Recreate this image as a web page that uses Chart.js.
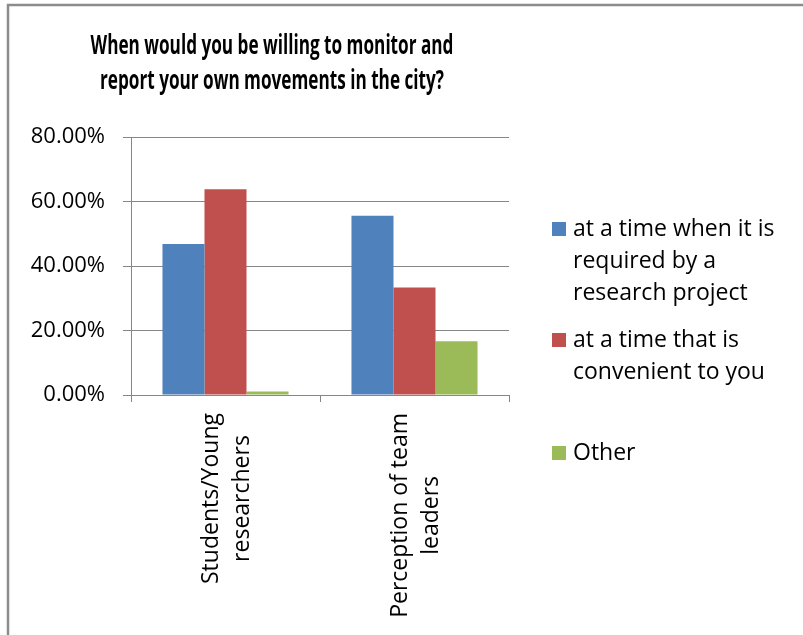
<!DOCTYPE html>
<html>
<head>
<meta charset="utf-8">
<script src="https://cdn.jsdelivr.net/npm/chart.js@4/dist/chart.umd.min.js"></script>
<style>
  html, body { margin: 0; padding: 0; background: #fff; }
  canvas { display: block; }
</style>
</head>
<body>
<canvas id="chart" width="803" height="635"></canvas>
<script>
// Data
const groups = [["Students/Young", "researchers"], ["Perception of team", "leaders"]];
const seriesNames = [
  ["at a time when it is", "required by a", "research project"],
  ["at a time that is", "convenient to you"],
  ["Other"]
];
const requiredByProject = [0.4681, 0.5556];
const convenientToYou = [0.6383, 0.3333];
const otherAnswer = [0.0106, 0.1667];
const titleLines = ["When would you be willing to monitor and", "report your own movements in the city?"];

const colors = ["#4F81BD", "#C0504D", "#9BBB59"];
const gray = "#868686";
const FONT = "'Open Sans', sans-serif";

// title, frame, category labels and legend are drawn by hand to sit like the original
const decor = {
  id: "decor",
  afterDraw(chart) {
    const ctx = chart.ctx;
    ctx.save();
    // frame (only top and left edges are visible)
    ctx.strokeStyle = "#8c8c8c";
    ctx.lineWidth = 2.5;
    ctx.beginPath();
    ctx.moveTo(803, 5);
    ctx.lineTo(8, 5);
    ctx.lineTo(8, 635);
    ctx.stroke();

    // title (squeezed, the original font is narrow)
    ctx.fillStyle = "#000";
    ctx.font = "bold 26px " + FONT;
    ctx.textAlign = "center";
    ctx.textBaseline = "alphabetic";
    ctx.save();
    ctx.translate(272, 0);
    ctx.scale(0.66, 1);
    ctx.fillText(titleLines[0], 0, 54);
    ctx.fillText(titleLines[1], 0, 89);
    ctx.restore();

    // category labels, rotated, lines centred on the longest one
    const xs = chart.scales.x;
    ctx.font = "23px " + FONT;
    ctx.textBaseline = "middle";
    chart.data.labels.forEach((lines, i) => {
      const w = Math.max(...lines.map(t => ctx.measureText(t).width));
      ctx.save();
      ctx.translate(xs.getPixelForTick(i) + 1, 413);
      ctx.rotate(-Math.PI / 2);
      lines.forEach((t, j) => ctx.fillText(t, -w / 2, (j - (lines.length - 1) / 2) * 31));
      ctx.restore();
    });

    // legend
    ctx.font = "23px " + FONT;
    ctx.textAlign = "left";
    ctx.textBaseline = "alphabetic";
    const tops = [222, 333, 446];
    chart.data.datasets.forEach((ds, i) => {
      ctx.fillStyle = ds.backgroundColor;
      ctx.fillRect(552, tops[i], 14, 14);
      ctx.fillStyle = "#000";
      seriesNames[i].forEach((t, j) => ctx.fillText(t, 573, tops[i] + 14 + j * 32));
    });
    ctx.restore();
  }
};

new Chart(document.getElementById("chart"), {
  type: "bar",
  data: {
    labels: groups,
    datasets: [
      { label: seriesNames[0].join(" "), data: requiredByProject, backgroundColor: colors[0] },
      { label: seriesNames[1].join(" "), data: convenientToYou, backgroundColor: colors[1] },
      { label: seriesNames[2].join(" "), data: otherAnswer, backgroundColor: colors[2] }
    ]
  },
  options: {
    responsive: false,
    animation: false,
    layout: { padding: { left: 0, right: 294, top: 137, bottom: 0 } },
    datasets: { bar: { categoryPercentage: 0.667, barPercentage: 1.0 } },
    plugins: {
      legend: { display: false },
      title: { display: false },
      tooltip: { enabled: false }
    },
    scales: {
      x: {
        offset: true,
        afterFit: (s) => { s.height = 240; },
        grid: { offset: true, drawOnChartArea: false, drawTicks: true, tickLength: 7, color: gray },
        border: { color: gray, width: 1 },
        ticks: { display: false }
      },
      y: {
        min: 0,
        max: 0.8,
        afterFit: (s) => { s.width = 131; },
        grid: { color: gray, tickLength: 8, lineWidth: 1 },
        border: { color: gray, width: 1 },
        ticks: {
          stepSize: 0.2,
          color: "#000",
          padding: 18,
          font: { family: FONT, size: 22 },
          callback: (v) => (v * 100).toFixed(2) + "%"
        }
      }
    }
  },
  plugins: [decor]
});
</script>
</body>
</html>
